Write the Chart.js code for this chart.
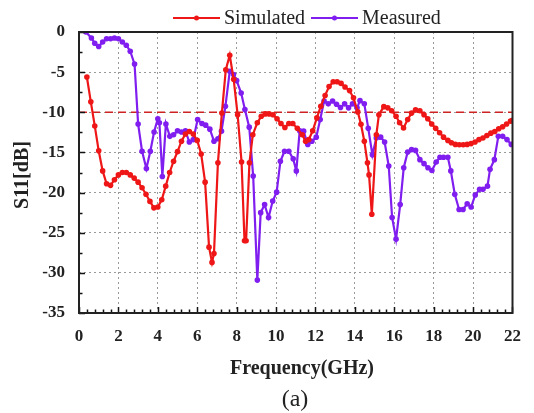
<!DOCTYPE html>
<html>
<head>
<meta charset="utf-8">
<script src="https://cdn.jsdelivr.net/npm/chart.js@4/dist/chart.umd.min.js"></script>
<style>
  html, body { margin: 0; background: #fff; }
</style>
</head>
<body>
<canvas id="chart" width="534" height="413"></canvas>
<script>
// values
const simFreq = [0.4, 0.6, 0.8, 1.0, 1.2, 1.4, 1.6, 1.8, 2.0, 2.2, 2.4, 2.6, 2.8, 3.0, 3.2, 3.4, 3.6, 3.8, 4.0, 4.2,
  4.4, 4.6, 4.8, 5.0, 5.2, 5.4, 5.6, 5.8, 6.0, 6.2, 6.4, 6.6, 6.75, 6.85, 7.05, 7.25, 7.45, 7.65, 7.85, 8.05,
  8.25, 8.4, 8.48, 8.65, 8.82, 9.05, 9.25, 9.45, 9.65, 9.85, 10.05, 10.25, 10.45, 10.65, 10.85, 11.08, 11.33, 11.5, 11.66, 11.86,
  12.07, 12.27, 12.49, 12.69, 12.9, 13.1, 13.3, 13.5, 13.73, 13.93, 14.15, 14.31, 14.48, 14.64, 14.72, 14.86, 15.09, 15.22, 15.47, 15.67,
  15.87, 16.09, 16.27, 16.47, 16.68, 16.88, 17.08, 17.3, 17.51, 17.7, 17.9, 18.1, 18.3, 18.5, 18.72, 18.9, 19.1, 19.3, 19.5, 19.7,
  19.9, 20.1, 20.3, 20.5, 20.7, 20.9, 21.1, 21.3, 21.5, 21.7, 21.9, 22.0];
const simS11 = [-5.6, -8.7, -11.7, -14.8, -17.3, -18.9, -19.1, -18.4, -17.8, -17.5, -17.5, -17.8, -18.2, -18.7, -19.4, -20.2, -21.1, -21.9, -21.8, -20.9,
  -19.2, -17.5, -16.1, -14.9, -13.6, -12.7, -12.4, -12.7, -13.5, -15.2, -18.7, -26.8, -28.7, -27.6, -16.3, -10.1, -4.7, -2.9, -5.9, -10.3,
  -16.2, -26.0, -26.0, -16.3, -12.8, -11.3, -10.5, -10.2, -10.2, -10.3, -10.8, -11.4, -11.9, -11.4, -11.4, -12.0, -12.8, -13.6, -13.4, -12.3,
  -10.7, -9.25, -7.9, -6.8, -6.2, -6.2, -6.4, -6.85, -7.3, -8.2, -9.95, -11.5, -13.6, -16.3, -17.8, -22.7, -12.8, -10.3, -9.3, -9.45,
  -9.8, -10.5, -11.3, -11.95, -10.9, -10.1, -9.7, -9.8, -10.3, -10.8, -11.45, -12.0, -12.55, -13.1, -13.5, -13.8, -14.0, -14.05, -14.05, -14.0,
  -13.9, -13.7, -13.4, -13.2, -12.9, -12.6, -12.4, -12.05, -11.8, -11.45, -11.1, -11.0];

const measFreq = [0.35, 0.63, 0.8, 1.0, 1.2, 1.4, 1.6, 1.8, 2.0, 2.2, 2.4, 2.6, 2.82, 3.0, 3.2, 3.42, 3.62, 3.81, 4.0, 4.08,
  4.23, 4.41, 4.61, 4.8, 5.0, 5.2, 5.4, 5.6, 5.8, 6.02, 6.24, 6.43, 6.64, 6.85, 7.05, 7.23, 7.43, 7.65, 7.84, 8.0,
  8.23, 8.42, 8.64, 8.84, 9.05, 9.22, 9.42, 9.62, 9.83, 10.03, 10.22, 10.43, 10.65, 10.87, 11.03, 11.2, 11.4, 11.61, 11.82, 12.04,
  12.24, 12.44, 12.65, 12.87, 13.07, 13.27, 13.48, 13.68, 13.88, 14.11, 14.26, 14.48, 14.68, 14.89, 15.09, 15.31, 15.51, 15.72, 15.89, 16.09,
  16.3, 16.48, 16.68, 16.88, 17.08, 17.3, 17.51, 17.71, 17.91, 18.13, 18.32, 18.5, 18.72, 18.87, 19.07, 19.29, 19.49, 19.7, 19.9, 20.11,
  20.33, 20.5, 20.73, 20.86, 21.08, 21.28, 21.5, 21.72, 21.94];
const measS11 = [0.0, -0.75, -1.4, -1.8, -1.25, -0.85, -0.85, -0.75, -0.85, -1.25, -1.65, -2.4, -4.0, -11.45, -14.85, -17.0, -14.85, -12.45, -10.8, -11.3,
  -18.0, -11.45, -13.0, -12.8, -12.3, -12.45, -12.3, -13.7, -13.4, -10.9, -11.4, -11.6, -12.1, -13.6, -13.3, -12.35, -9.25, -4.9, -5.3, -6.05,
  -7.6, -9.65, -11.85, -17.95, -30.9, -22.5, -21.5, -23.1, -21.05, -19.95, -16.1, -14.85, -14.85, -15.8, -17.3, -12.3, -12.35, -14.0, -13.6, -13.1,
  -10.9, -8.6, -8.95, -8.6, -9.0, -9.4, -8.95, -9.45, -8.95, -9.45, -8.55, -8.95, -12.0, -15.3, -13.2, -13.1, -13.7, -16.7, -23.1, -25.8,
  -21.5, -16.9, -14.95, -14.65, -14.75, -15.9, -16.4, -16.9, -17.25, -16.2, -15.6, -15.6, -15.6, -17.3, -20.2, -22.1, -22.1, -21.4, -21.8, -20.3,
  -19.6, -19.6, -19.2, -17.1, -15.9, -13.0, -13.0, -13.4, -14.0];

const xTicks = [0, 2, 4, 6, 8, 10, 12, 14, 16, 18, 20, 22];
const yTicks = [0, -5, -10, -15, -20, -25, -30, -35];
const threshold = -10;
const seriesNames = ['Simulated', 'Measured'];

const RED = 'rgb(238,22,22)';
const PURPLE = 'rgb(128,30,240)';
const SERIF = "'Liberation Serif', 'Times New Roman', serif";

const toPoints = (xs, ys) => xs.map((x, i) => ({ x: x, y: ys[i] }));

// frame, inward ticks, legend and captions
const decorations = {
  id: 'decorations',
  afterDraw(chart) {
    const ctx = chart.ctx;
    const area = chart.chartArea;
    const xs = chart.scales.x;
    const ys = chart.scales.y;
    ctx.save();

    // inward ticks
    ctx.strokeStyle = '#111';
    ctx.lineWidth = 1.5;
    ctx.beginPath();
    for (let v = 0; v <= 22.001; v += 0.4) {
      const px = Math.round(xs.getPixelForValue(v)) + 0.5;
      const major = Math.abs(v / 2 - Math.round(v / 2)) < 0.01;
      ctx.moveTo(px, area.bottom);
      ctx.lineTo(px, area.bottom - (major ? 6 : 3.5));
    }
    for (let v = 0; v >= -35.001; v -= 2.5) {
      const py = Math.round(ys.getPixelForValue(v)) + 0.5;
      const major = Math.abs(v / 5 - Math.round(v / 5)) < 0.01;
      ctx.moveTo(area.left, py);
      ctx.lineTo(area.left + (major ? 6 : 3.5), py);
    }
    ctx.stroke();

    // frame
    ctx.strokeStyle = '#222';
    ctx.lineWidth = 2;
    ctx.strokeRect(area.left, area.top, area.right - area.left, area.bottom - area.top);

    // legend
    ctx.font = '20px ' + SERIF;
    ctx.textBaseline = 'middle';
    ctx.textAlign = 'left';
    const ly = 18;
    const items = [
      { x0: 173, x1: 220, tx: 224, color: RED, text: seriesNames[0] },
      { x0: 311, x1: 358, tx: 362, color: PURPLE, text: seriesNames[1] }
    ];
    items.forEach(it => {
      ctx.strokeStyle = it.color;
      ctx.lineWidth = 2;
      ctx.beginPath();
      ctx.moveTo(it.x0, ly);
      ctx.lineTo(it.x1, ly);
      ctx.stroke();
      ctx.fillStyle = it.color;
      ctx.beginPath();
      ctx.arc((it.x0 + it.x1) / 2, ly, 2.5, 0, Math.PI * 2);
      ctx.fill();
      ctx.fillStyle = '#222';
      ctx.fillText(it.text, it.tx, ly + 1);
    });

    // axis titles and caption
    ctx.fillStyle = '#222';
    ctx.textAlign = 'center';
    ctx.font = 'bold 20px ' + SERIF;
    ctx.fillText('Frequency(GHz)', 302, 369);
    ctx.save();
    ctx.translate(23, 175);
    ctx.rotate(-Math.PI / 2);
    ctx.fillText('S11[dB]', 0, 0);
    ctx.restore();
    ctx.font = '24px ' + SERIF;
    ctx.fillText('(a)', 295, 400);

    ctx.restore();
  }
};

new Chart(document.getElementById('chart'), {
  type: 'line',
  data: {
    datasets: [
      {
        label: seriesNames[0],
        data: toPoints(simFreq, simS11),
        borderColor: RED,
        backgroundColor: RED,
        borderWidth: 2.2,
        pointRadius: 2.8,
        pointBorderWidth: 0,
        tension: 0
      },
      {
        label: seriesNames[1],
        data: toPoints(measFreq, measS11),
        borderColor: PURPLE,
        backgroundColor: PURPLE,
        borderWidth: 2.2,
        pointRadius: 2.8,
        pointBorderWidth: 0,
        tension: 0
      },
      {
        label: 'threshold',
        data: [{ x: 0, y: threshold }, { x: 22, y: threshold }],
        borderColor: 'rgb(205,35,35)',
        borderWidth: 1.5,
        borderDash: [8, 5],
        pointRadius: 0
      }
    ]
  },
  options: {
    responsive: false,
    animation: false,
    layout: { padding: { left: 0, right: 13, top: 32, bottom: 0 } },
    plugins: {
      legend: { display: false },
      tooltip: { enabled: false }
    },
    scales: {
      x: {
        type: 'linear',
        min: 0,
        max: 22,
        afterFit: s => { s.height = 100; },
        afterBuildTicks: s => { s.ticks = xTicks.map(v => ({ value: v })); },
        ticks: {
          color: '#222',
          padding: 13,
          maxRotation: 0,
          font: { family: SERIF, size: 17, weight: 'bold' }
        },
        grid: { color: '#9a9a9a', lineWidth: 1, drawTicks: false },
        border: { display: false, dash: [2, 3] }
      },
      y: {
        min: -35,
        max: 0,
        afterFit: s => { s.width = 79; },
        afterBuildTicks: s => { s.ticks = yTicks.map(v => ({ value: v })); },
        ticks: {
          color: '#222',
          padding: 14,
          font: { family: SERIF, size: 17, weight: 'bold' }
        },
        grid: { color: '#9a9a9a', lineWidth: 1, drawTicks: false },
        border: { display: false, dash: [2, 3] }
      }
    }
  },
  plugins: [decorations]
});
</script>
</body>
</html>
